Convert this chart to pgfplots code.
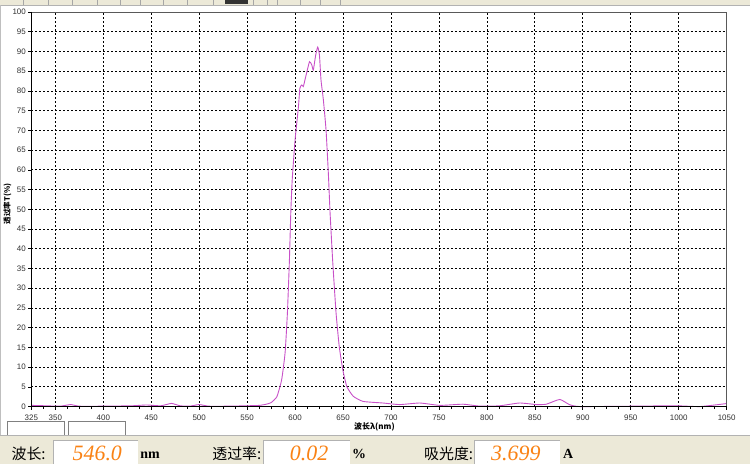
\documentclass[border=0pt]{standalone}
\usepackage{pgfplots}
\pgfplotsset{compat=1.18}
\usepackage{fontspec}
\setmainfont{Liberation Sans}
\newfontfamily\cjk{Noto Sans CJK SC}
\newfontfamily\serif{Liberation Serif}
\definecolor{curve}{RGB}{200,80,200}
\definecolor{beige}{RGB}{236,233,216}
\definecolor{numorange}{RGB}{250,130,20}
\definecolor{ticktext}{RGB}{50,50,50}
\begin{document}
\begin{tikzpicture}
\begin{scope}[x=1bp,y=1bp]
\useasboundingbox (0,0) rectangle (750,464);
\fill[white] (0,0) rectangle (750,464);
% top toolbar strip
\fill[beige] (0,459) rectangle (750,464);
\foreach \xx in {23,48,72,97,120,140,163,187,213,253,267,277,300,320,340}
  \draw[gray!70,line width=0.6bp] (\xx,459) -- (\xx,464);
\fill[black!80] (225,460) rectangle (248,464);
\draw[gray!60,line width=0.6bp] (0,459) -- (750,459);
\draw[gray!50,line width=0.8bp] (0.5,28) -- (0.5,459);
\end{scope}
\begin{axis}[
  at={(31bp,57bp)}, anchor=south west,
  scale only axis, width=696bp, height=395bp,
  xmin=325, xmax=1050, ymin=0, ymax=100,
  xtick={325,350,400,450,500,550,600,650,700,750,800,850,900,950,1000,1050},
  ytick={0,5,...,100},
  minor xtick={337.5,362.5,375,387.5,412.5,425,437.5,462.5,475,487.5,512.5,525,537.5,562.5,575,587.5,612.5,625,637.5,662.5,675,687.5,712.5,725,737.5,762.5,775,787.5,812.5,825,837.5,862.5,875,887.5,912.5,925,937.5,962.5,975,987.5,1012.5,1025,1037.5},
  grid=major,
  major grid style={black, line width=0.7bp, dash pattern=on 2bp off 2bp},
  tick align=outside,
  major tick length=3bp, minor tick length=2.5bp,
  tick style={black, line width=0.6bp},
  xtick pos=bottom, ytick pos=left,
  axis line style={draw=none},
  ticklabel style={font=\fontsize{8}{9}\selectfont, text=ticktext},
  /pgf/number format/assume math mode=true,
  /pgf/number format/1000 sep={},
  xticklabel style={yshift=-2bp},
  yticklabel style={xshift=1bp},
  clip=false,
]
\addplot[curve, line width=0.9bp, smooth, tension=0.3] coordinates {
(325,0.3) (340,0.2) (355,0.1) (366,0.5) (375,0.1) (400,0.1) (430,0.2) (445,0.4)
(460,0.2) (471,0.8) (480,0.2) (490,0.1) (500,0.5) (510,0.1) (530,0.1) (550,0.2)
(563,0.3) (570,0.6) (575,1.0) (581,2.5) (586,6.8) (589.6,13.7) (592,23.8) (594,36.5)
(595.5,49) (597,57.5) (600,67.6) (603.5,76) (605,80.7) (607,81.5) (608.6,81.1)
(610,82.5) (612,84.5) (615,87.4) (617.4,86.6) (619,85.3) (621.5,89.1) (623.6,91.1)
(625.4,89.1) (627,82.8) (629.5,77.7) (632.3,70) (634.7,59) (636.5,49) (639.3,36.5)
(642.7,23.8) (646,15.3) (649.7,9.4) (653.9,5.1) (660.7,2.6) (671,1.3) (691.7,0.9)
(709,0.5) (730,0.9) (751,0.3) (775,0.6) (792.7,0.1) (813.5,0.2) (834,0.9) (852,0.5)
(862,0.6) (876,1.8) (886,0.5) (897,0.0) (952,0.1) (997,0.2) (1022,0.0) (1048,0.7) (1050,0.8)
};
\draw[gray!70!black, line width=0.8bp] (rel axis cs:0,1) -- (rel axis cs:1,1) -- (rel axis cs:1,0);
\draw[black, line width=1.6bp] (rel axis cs:0,1) -- (rel axis cs:0,0) -- (rel axis cs:1,0);
\end{axis}
\begin{scope}[x=1bp,y=1bp]
% axis titles
\node[rotate=90, font=\cjk\bfseries\fontsize{7.5}{8}\selectfont, inner sep=0] at (7,260) {透过率T(\%)};
\node[anchor=west, font=\cjk\bfseries\fontsize{8}{9}\selectfont, inner sep=0] at (354,37) {波长λ(nm)};
% little boxes under the axis
\draw[gray, fill=white, line width=0.7bp] (7,28) rectangle (64,42);
\draw[gray, fill=white, line width=0.7bp] (68,28) rectangle (125,42);
% status bar
\fill[beige] (0,0) rectangle (750,28);
\draw[gray!60, line width=0.8bp] (0,28) -- (750,28);
\foreach \a/\b in {53/138, 263/350, 474/560}{
  \fill[white] (\a,0) rectangle (\b,23);
  \draw[gray!60, line width=0.7bp] (\a,0) -- (\a,23) -- (\b,23);
}
\node[anchor=base west, font=\cjk\fontsize{15}{16}\selectfont, inner sep=0] at (11,4) {波长:};
\node[anchor=base west, font=\cjk\fontsize{15}{16}\selectfont, inner sep=0] at (212,4) {透过率:};
\node[anchor=base west, font=\cjk\fontsize{15}{16}\selectfont, inner sep=0] at (424,4) {吸光度:};
\node[anchor=base, font=\serif\itshape\fontsize{22}{23}\selectfont, text=numorange, inner sep=0] at (97,3.5) {546.0};
\node[anchor=base, font=\serif\itshape\fontsize{22}{23}\selectfont, text=numorange, inner sep=0] at (309,3.5) {0.02};
\node[anchor=base, font=\serif\itshape\fontsize{22}{23}\selectfont, text=numorange, inner sep=0] at (516,3.5) {3.699};
\node[anchor=base west, font=\serif\bfseries\fontsize{14}{15}\selectfont, inner sep=0] at (140,5) {nm};
\node[anchor=base west, font=\serif\bfseries\fontsize{14}{15}\selectfont, inner sep=0] at (352,5) {\%};
\node[anchor=base west, font=\serif\bfseries\fontsize{14}{15}\selectfont, inner sep=0] at (563,5) {A};
\end{scope}
\end{tikzpicture}
\end{document}
